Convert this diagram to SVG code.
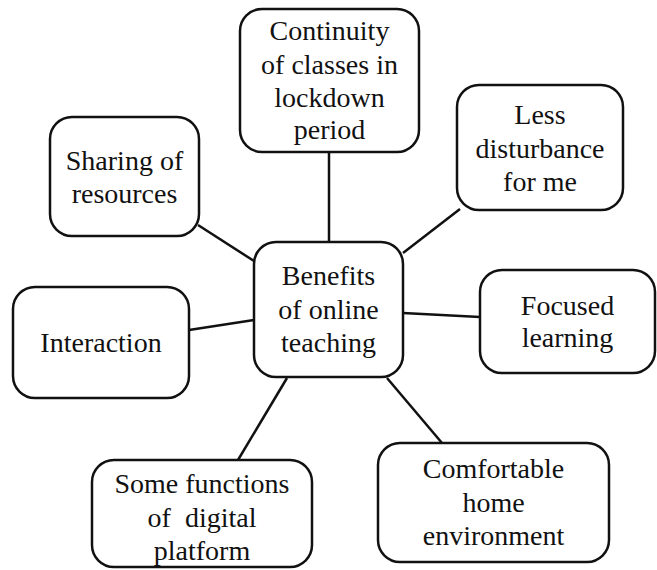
<svg xmlns="http://www.w3.org/2000/svg" width="657" height="570" viewBox="0 0 657 570">
<style>
.box{fill:#fff;stroke:#111;stroke-width:2.5}
.c{stroke:#111;stroke-width:2.5;fill:none}
</style>
<rect width="657" height="570" fill="#fff"/>
<g id="connectors">
<line class="c" x1="329" y1="152" x2="329" y2="242"/>
<line class="c" x1="403" y1="253" x2="460" y2="209"/>
<line class="c" x1="198" y1="225" x2="254" y2="261"/>
<line class="c" x1="189" y1="330" x2="254" y2="320"/>
<line class="c" x1="403" y1="313" x2="480" y2="317"/>
<line class="c" x1="387" y1="378" x2="442" y2="443"/>
<line class="c" x1="287" y1="378" x2="238" y2="460"/>
</g>
<g font-family="Liberation Serif, Tinos, DejaVu Serif, serif" font-size="28" fill="#111" text-anchor="middle">
<g id="center">
<rect class="box" x="254" y="242" width="149" height="135" rx="22"/>
<text x="328.5" y="285">Benefits</text>
<text x="328.5" y="319">of online</text>
<text x="328.5" y="352">teaching</text>
</g>
<g id="continuity">
<rect class="box" x="240" y="9" width="179" height="143" rx="22"/>
<text x="329.5" y="40">Continuity</text>
<text x="329.5" y="74">of classes in</text>
<text x="329.5" y="107">lockdown</text>
<text x="329.5" y="139">period</text>
</g>
<g id="less">
<rect class="box" x="457" y="85" width="166" height="125" rx="22"/>
<text x="540" y="124">Less</text>
<text x="540" y="158">disturbance</text>
<text x="540" y="191">for me</text>
</g>
<g id="sharing">
<rect class="box" x="50" y="117" width="149" height="119" rx="22"/>
<text x="124.5" y="170">Sharing of</text>
<text x="124.5" y="203">resources</text>
</g>
<g id="interaction">
<rect class="box" x="13" y="287" width="176" height="111" rx="22"/>
<text x="101" y="352">Interaction</text>
</g>
<g id="focused">
<rect class="box" x="480" y="270" width="175" height="103" rx="22"/>
<text x="567.5" y="315">Focused</text>
<text x="567.5" y="347">learning</text>
</g>
<g id="comfortable">
<rect class="box" x="378" y="443" width="231" height="119" rx="22"/>
<text x="493.5" y="478">Comfortable</text>
<text x="493.5" y="512">home</text>
<text x="493.5" y="545">environment</text>
</g>
<g id="functions">
<rect class="box" x="92" y="460" width="220" height="107" rx="22"/>
<text x="202" y="493">Some functions</text>
<text x="202" y="527" xml:space="preserve">of  digital</text>
<text x="202" y="560">platform</text>
</g>
</g>
</svg>
